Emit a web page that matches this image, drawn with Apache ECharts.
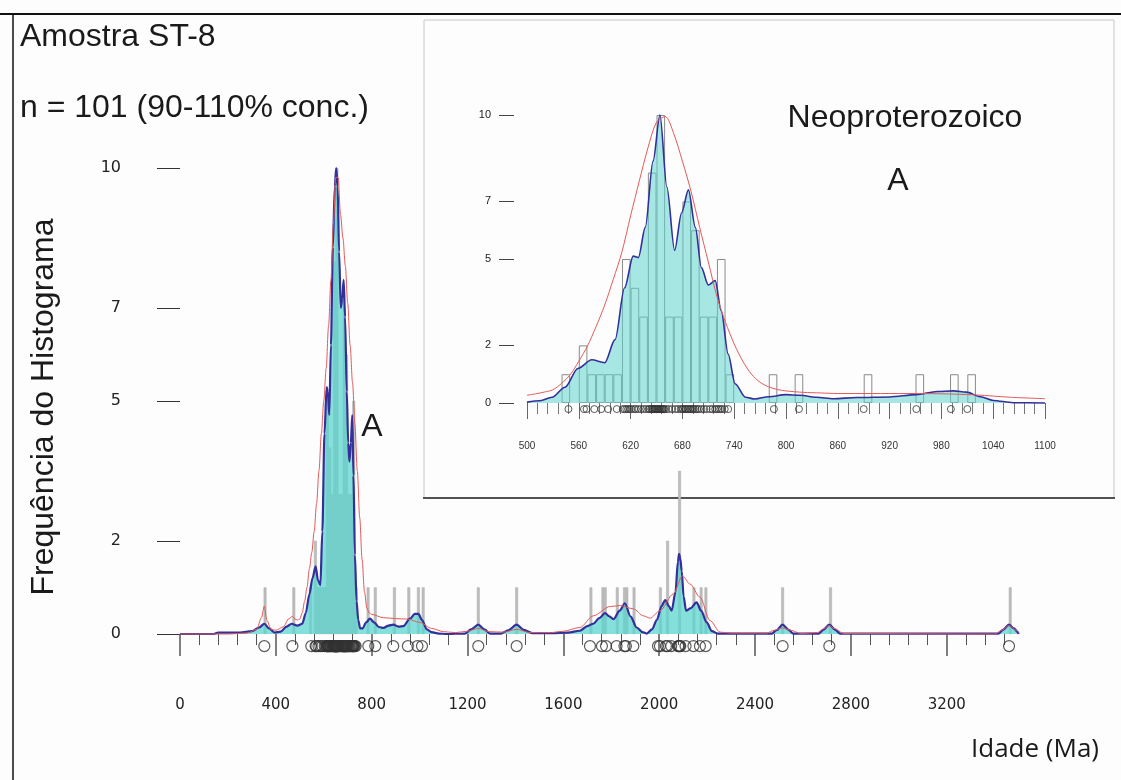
<!DOCTYPE html>
<html lang="pt">
<head>
<meta charset="UTF-8">
<title>Amostra ST-8</title>
<script src="https://cdn.jsdelivr.net/npm/echarts@6/dist/echarts.min.js"></script>
<style>
  html, body { margin: 0; padding: 0; background: #fdfdfd; }
  #main { width: 1121px; height: 780px; }
</style>
</head>
<body>
<div id="main"></div>
<script>
// idades individuais (Ma) - circulos
var ages = [352, 469, 548, 566, 569, 578, 586, 594, 604,
  611, 613, 615, 617, 619, 621, 624, 626, 629, 632, 635, 638,
  641, 642, 644, 645, 646, 647, 648, 649,
  650, 651, 652, 653, 654, 655, 656, 657, 658, 659,
  661, 664, 668, 672, 675, 678,
  680, 681, 683, 684, 686, 687, 689, 690, 692, 693, 695, 697, 699,
  702, 705, 708, 712, 715, 718, 720, 722, 724, 726, 729, 733,
  786, 815, 890, 951, 991, 1010, 1245, 1405,
  1711, 1761, 1778, 1822, 1855, 1861, 1892,
  1995, 2003, 2028, 2034, 2050, 2079, 2082, 2085, 2088, 2110, 2143, 2170, 2194,
  2515, 2710, 3460];

// histograma, classes de 10 Ma: [inicio, contagem]
var histMain = [[350,1],[470,1],[540,1],[560,2],[570,1],[580,1],[590,1],[600,1],
  [610,5],[620,4],[630,3],[640,8],[650,10],[660,3],[670,3],[680,7],[690,6],
  [700,3],[710,3],[720,5],[730,1],[780,1],[810,1],[890,1],[950,1],[990,1],[1010,1],
  [1240,1],[1400,1],[1710,1],[1760,1],[1770,1],[1820,1],[1850,1],[1860,1],[1890,1],
  [2000,1],[2030,2],[2080,3.5],[2140,1],[2170,1],[2190,1],[2510,1],[2710,1],[3460,1]];
var histInset = [[540,1],[560,2],[570,1],[580,1],[590,1],[600,1],
  [610,5],[620,4],[630,3],[640,8],[650,10],[660,3],[670,3],[680,7],[690,6],
  [700,3],[710,3],[720,5],[730,1],[780,1],[810,1],[890,1],[950,1],[990,1],[1010,1]];

// curva de densidade (azul) e curva de probabilidade (vermelha): [idade, valor]
var kdeMain = [[0,0],[140,0],[160,0.03],[250,0.03],[300,0.06],[330,0.14],[352,0.22],[372,0.12],
  [395,0.03],[420,0.05],[445,0.16],[466,0.22],[490,0.18],[510,0.22],[525,0.45],[540,0.85],
  [553,1.2],[566,1.45],[576,1.15],[586,1.05],[594,2.2],[603,4.3],[612,5.3],[617,5.2],
  [623,4.7],[630,6.2],[638,8.3],[646,9.6],[652,10],[658,9.6],[664,8.2],[671,7.0],[677,7.2],
  [683,7.6],[689,6.8],[696,5.2],[702,4.1],[707,3.7],[713,4.1],[719,4.7],[724,3.4],[730,1.7],
  [737,0.7],[744,0.3],[752,0.12],[762,0.12],[777,0.25],[793,0.33],[810,0.25],[830,0.15],
  [849,0.13],[870,0.18],[890,0.2],[912,0.16],[932,0.17],[960,0.33],[980,0.43],[995,0.43],
  [1010,0.3],[1030,0.1],[1050,0.04],[1080,0.01],[1113,0],[1190,0.01],[1215,0.1],[1245,0.2],
  [1270,0.1],[1294,0.01],[1340,0.01],[1370,0.08],[1405,0.2],[1435,0.09],[1470,0.02],
  [1550,0.02],[1620,0.03],[1669,0.07],[1700,0.17],[1725,0.22],[1750,0.34],[1774,0.45],
  [1792,0.38],[1809,0.32],[1835,0.5],[1857,0.66],[1880,0.38],[1906,0.14],[1930,0.04],
  [1948,0.01],[1970,0.1],[1990,0.3],[2010,0.6],[2025,0.73],[2040,0.6],[2052,0.5],[2068,0.9],
  [2078,1.55],[2083,1.72],[2088,1.62],[2094,1.35],[2102,0.8],[2112,0.5],[2130,0.55],
  [2156,0.68],[2175,0.5],[2198,0.25],[2220,0.06],[2245,0.01],[2470,0.01],[2490,0.08],
  [2515,0.2],[2540,0.09],[2560,0.01],[2665,0.01],[2685,0.09],[2710,0.2],[2735,0.09],
  [2755,0.01],[3415,0.01],[3435,0.09],[3460,0.2],[3480,0.12],[3497,0.04],[3500,0]];
var pdpMain = [[0,0],[200,0],[280,0.02],[320,0.1],[340,0.35],[352,0.6],[362,0.3],[380,0.1],
  [400,0.08],[430,0.15],[455,0.33],[470,0.38],[480,0.32],[490,0.3],[500,0.32],[510,0.45],
  [520,0.7],[530,1.0],[540,1.4],[550,1.75],[560,2.2],[570,2.8],[580,3.5],[590,4.3],[600,5.0],
  [610,5.7],[620,6.6],[630,7.6],[640,8.8],[650,9.8],[660,9.8],[670,9.0],[680,8.5],[690,7.9],
  [700,7.1],[710,6.2],[720,5.4],[730,4.5],[740,3.5],[750,2.5],[760,1.6],[770,0.9],[780,0.55],
  [790,0.45],[800,0.42],[850,0.35],[900,0.33],[950,0.32],[1000,0.25],[1050,0.12],[1100,0.05],
  [1150,0.03],[1200,0.06],[1245,0.12],[1290,0.05],[1350,0.04],[1405,0.1],[1460,0.03],
  [1550,0.03],[1600,0.06],[1669,0.14],[1725,0.39],[1795,0.59],[1837,0.61],[1892,0.54],
  [1934,0.39],[1962,0.34],[2003,0.5],[2059,0.86],[2097,1.25],[2129,1.07],[2170,0.79],
  [2212,0.29],[2254,0.04],[2300,0.02],[2450,0.02],[2480,0.08],[2515,0.13],[2550,0.08],
  [2590,0.01],[2660,0.03],[2690,0.12],[2710,0.18],[2730,0.12],[2770,0.01],[3400,0],
  [3430,0.08],[3460,0.18],[3490,0.08],[3500,0.03]];
var kdeInset = [[500,0.03],[515,0.08],[529,0.2],[544,0.55],[559,1.2],[575,1.5],[590,1.4],
  [602,2.2],[613,4.0],[623,5.1],[629,5.05],[637,6.1],[646,8.4],[654,10],[662,7.5],[671,5.3],
  [679,6.6],[687,7.4],[695,6.1],[702,4.7],[710,4.1],[718,4.25],[725,3.2],[733,1.7],[741,0.67],
  [753,0.2],[764,0.14],[780,0.22],[800,0.29],[816,0.27],[835,0.2],[855,0.15],[882,0.19],
  [920,0.21],[951,0.29],[975,0.4],[994,0.42],[1009,0.38],[1025,0.22],[1040,0.09],[1063,0.01],[1100,0]];
var pdpInset = [[500,0.27],[510,0.32],[520,0.38],[530,0.46],[540,0.68],[550,0.98],[560,1.45],
  [570,1.98],[580,2.65],[590,3.4],[600,4.3],[610,5.25],[620,6.5],[630,7.7],[640,8.85],
  [650,9.75],[660,9.95],[670,9.35],[680,8.4],[690,7.35],[700,6.1],[710,4.9],[720,3.7],
  [730,2.8],[740,2.05],[750,1.45],[760,1.0],[770,0.72],[780,0.56],[790,0.47],[800,0.42],
  [820,0.37],[840,0.35],[860,0.33],[900,0.33],[940,0.33],[980,0.32],[1020,0.28],[1060,0.2],[1100,0.15]];

var yTicks = [0, 2, 5, 7, 10];
var xTicksMain = [0, 400, 800, 1200, 1600, 2000, 2400, 2800, 3200];

var chart = echarts.init(document.getElementById('main'));

function bins(h) {
    return h.map(function (b) { return [b[0] + 5, b[1]]; });
}
function plain(v) {
    return String(v);
}
var insetAges = ages.filter(function (a) { return a >= 500 && a <= 1100; });

var option = {
    animation: false,
    backgroundColor: '#fdfdfd',
    grid: [
        { left: 180, width: 838.6, top: 144.7, height: 512.6 },
        { left: 527, width: 518, top: 103.5, height: 316.8 }
    ],
    xAxis: [
        {
            type: 'value', gridIndex: 0, min: 0, max: 3500, interval: 400, offset: 9,
            axisLine: { show: false },
            axisTick: { show: true, customValues: xTicksMain, length: 22, lineStyle: { color: '#555', width: 1.5 } },
            minorTick: { show: true, splitNumber: 5, length: 11, lineStyle: { color: '#555', width: 1 } },
            axisLabel: { customValues: xTicksMain, formatter: plain, margin: 31, fontSize: 15, color: '#222', fontFamily: 'DejaVu Sans' },
            splitLine: { show: false }
        },
        {
            type: 'value', gridIndex: 1, min: 500, max: 1100, interval: 60,
            axisLine: { show: false },
            axisTick: { show: true, length: 16, lineStyle: { color: '#666' } },
            minorTick: { show: true, splitNumber: 5, length: 11, lineStyle: { color: '#777' } },
            axisLabel: { formatter: plain, margin: 21, fontSize: 10, color: '#333', fontFamily: 'Liberation Sans' },
            splitLine: { show: false }
        }
    ],
    yAxis: [
        {
            type: 'value', gridIndex: 0, min: -0.5, max: 10.5, offset: 22,
            axisLine: { show: false },
            axisTick: { show: true, customValues: yTicks, length: 23, lineStyle: { color: '#333' } },
            axisLabel: { customValues: yTicks, margin: 37, fontSize: 16, color: '#222', fontFamily: 'DejaVu Sans' },
            splitLine: { show: false }
        },
        {
            type: 'value', gridIndex: 1, min: -0.6, max: 10.4, offset: 13,
            axisLine: { show: false },
            axisTick: { show: true, customValues: yTicks, length: 15, lineStyle: { color: '#444' } },
            axisLabel: { customValues: yTicks, margin: 23, fontSize: 11, color: '#222', fontFamily: 'Liberation Sans' },
            splitLine: { show: false }
        }
    ],
    series: [
        {
            type: 'bar', xAxisIndex: 0, yAxisIndex: 0, z: 1,
            data: bins(histMain), barWidth: 2.8,
            itemStyle: { color: '#bdbdbd', borderColor: '#aaaaaa', borderWidth: 0.5 }
        },
        {
            type: 'line', xAxisIndex: 0, yAxisIndex: 0, z: 2,
            data: kdeMain, showSymbol: false, smooth: 0.3, smoothMonotone: 'x',
            lineStyle: { color: '#33309a', width: 2.2 },
            areaStyle: { color: 'rgba(92,212,206,0.75)', opacity: 1 }
        },
        {
            type: 'line', xAxisIndex: 0, yAxisIndex: 0, z: 3,
            data: pdpMain, showSymbol: false, smooth: 0.3, smoothMonotone: 'x',
            lineStyle: { color: '#e35a5a', width: 1 }
        },
        {
            type: 'scatter', xAxisIndex: 0, yAxisIndex: 0, z: 4,
            data: ages.map(function (a) { return [a, -0.26]; }),
            symbol: 'circle', symbolSize: 11,
            itemStyle: { color: 'rgba(0,0,0,0)', borderColor: '#333', borderWidth: 1.2 }
        },
        {
            type: 'bar', xAxisIndex: 1, yAxisIndex: 1, z: 1,
            data: bins(histInset), barWidth: 8.6,
            itemStyle: { color: 'rgba(0,0,0,0)', borderColor: '#8a8a8a', borderWidth: 1 }
        },
        {
            type: 'line', xAxisIndex: 1, yAxisIndex: 1, z: 2,
            data: kdeInset, showSymbol: false, smooth: 0.3, smoothMonotone: 'x',
            lineStyle: { color: '#33309a', width: 1.6 },
            areaStyle: { color: 'rgba(95,211,206,0.55)', opacity: 1 }
        },
        {
            type: 'line', xAxisIndex: 1, yAxisIndex: 1, z: 3,
            data: pdpInset, showSymbol: false, smooth: 0.3,
            lineStyle: { color: '#e35a5a', width: 1 }
        },
        {
            type: 'scatter', xAxisIndex: 1, yAxisIndex: 1, z: 4,
            data: insetAges.map(function (a) { return [a, -0.21]; }),
            symbol: 'circle', symbolSize: 7,
            itemStyle: { color: 'rgba(0,0,0,0)', borderColor: '#333', borderWidth: 1 }
        }
    ],
    graphic: [
        { type: 'line', shape: { x1: 0, y1: 14, x2: 1121, y2: 14 }, style: { stroke: '#111', lineWidth: 2 } },
        { type: 'line', shape: { x1: 13, y1: 14, x2: 13, y2: 780 }, style: { stroke: '#111', lineWidth: 1.5 } },
        { type: 'rect', shape: { x: 424, y: 20, width: 690, height: 478 }, style: { fill: null, stroke: '#c8c8c8', lineWidth: 1 } },
        { type: 'line', shape: { x1: 423, y1: 498, x2: 1115, y2: 498 }, style: { stroke: '#222', lineWidth: 1.5 } },
        { type: 'text', x: 20, y: 37, style: { text: 'Amostra ST-8', font: '32px "Liberation Sans"', fill: '#1a1a1a', verticalAlign: 'middle' } },
        { type: 'text', x: 20, y: 108, style: { text: 'n = 101 (90-110% conc.)', font: '32px "Liberation Sans"', fill: '#1a1a1a', verticalAlign: 'middle' } },
        { type: 'text', x: 44, y: 407, rotation: Math.PI / 2, style: { text: 'Frequência do Histograma', font: '32px "Liberation Sans"', fill: '#1a1a1a', align: 'center', verticalAlign: 'middle' } },
        { type: 'text', x: 372, y: 427, style: { text: 'A', font: '32px "Liberation Sans"', fill: '#1a1a1a', align: 'center', verticalAlign: 'middle' } },
        { type: 'text', x: 905, y: 118, style: { text: 'Neoproterozoico', font: '32px "Liberation Sans"', fill: '#1a1a1a', align: 'center', verticalAlign: 'middle' } },
        { type: 'text', x: 898, y: 181, style: { text: 'A', font: '32px "Liberation Sans"', fill: '#1a1a1a', align: 'center', verticalAlign: 'middle' } },
        { type: 'text', x: 1035, y: 750, style: { text: 'Idade (Ma)', font: '26px "Open Sans"', fill: '#1a1a1a', align: 'center', verticalAlign: 'middle' } }
    ]
};
chart.setOption(option);
</script>
</body>
</html>
